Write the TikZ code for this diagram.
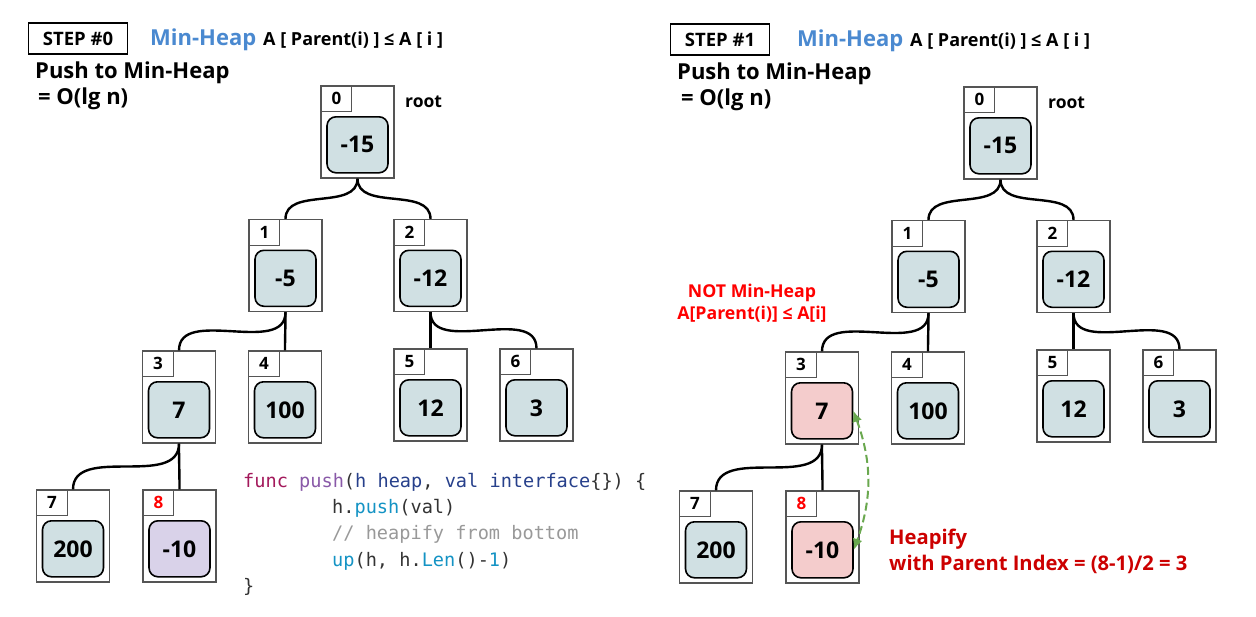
\documentclass[tikz,border=0pt]{standalone}
\usepackage{fontspec}
\setmainfont{Open Sans}
\setmonofont{DejaVu Sans Mono}
\usepackage{tikz}
\usepackage{xcolor}
\usetikzlibrary{positioning, arrows.meta, calc}
\definecolor{cellFill}{HTML}{D0E0E3}
\definecolor{cellPurple}{HTML}{D9D2E9}
\definecolor{cellPink}{HTML}{F4CCCC}
\definecolor{cellGray}{HTML}{555555}
\definecolor{heapBlue}{HTML}{4A89D0}
\definecolor{idxRed}{HTML}{FF0000}
\definecolor{noteRed}{HTML}{CC0000}
\definecolor{swapGreen}{HTML}{6AA84F}
\definecolor{cKey}{HTML}{A3195B}
\definecolor{cFun}{HTML}{8959A8}
\definecolor{cType}{HTML}{27408B}
\definecolor{cCall}{HTML}{1493C4}
\definecolor{cText}{HTML}{333333}
\definecolor{cNote}{HTML}{999999}

\newcommand{\fsz}[1]{\fontsize{#1}{#1}\selectfont}
% one heap slot: name, x, y, index, index colour, value, fill
\newcommand{\heapcell}[7]{%
  \node[cellbox] (#1) at (#2,#3) {};
  \node[idxbox, text=#5] (#1i) at (#1.north west) {#4};
  \node[valbox, fill=#7] (#1v) at ([yshift=5pt]#1.south) {#6};
}

\begin{document}
\begin{tikzpicture}[x=1pt, y=-1pt,
    cellbox/.style={draw=cellGray, line width=1.2pt, minimum width=73pt, minimum height=92pt, inner sep=0pt},
    idxbox/.style={draw=cellGray, line width=1pt, anchor=north west, minimum width=31pt, minimum height=26pt, inner sep=0pt, font=\bfseries\fsz{17}},
    valbox/.style={draw=black, line width=1.6pt, rounded corners=9pt, anchor=south, minimum width=61pt, minimum height=56pt, inner sep=0pt, font=\bfseries\fsz{23}},
    branch/.style={line width=2.4pt},
    stepbox/.style={draw=black, line width=1.6pt, minimum width=99pt, minimum height=31pt, inner sep=0pt, font=\bfseries\fsz{18.5}},
    title/.style={anchor=base west, inner sep=0pt, font=\bfseries},
    swap/.style={{Latex[length=11pt,width=10pt]}-{Latex[length=11pt,width=10pt]}, swapGreen, line width=2pt, dash pattern=on 8pt off 4pt}]
  \useasboundingbox (0,0) rectangle (1256,616);

  % headings
  \node[stepbox] (stepA) at (78,38.5) {STEP \#0};
  \node[title] (titleA) at (150,45.5) {{\color{heapBlue}\fsz{22}Min-Heap}\hspace{7pt}\fsz{18}A [ Parent(i) ] ≤ A [ i ]};
  \node[title, font=\bfseries\fsz{22}] (pushA) at (35,78) {Push to Min-Heap};
  \node[title, font=\bfseries\fsz{22}] (costA) at (38,104) {= O(lg n)};
  \node[stepbox] (stepB) at (720,39.5) {STEP \#1};
  \node[title] (titleB) at (797,46.5) {{\color{heapBlue}\fsz{22}Min-Heap}\hspace{7pt}\fsz{18}A [ Parent(i) ] ≤ A [ i ]};
  \node[title, font=\bfseries\fsz{22}] (pushB) at (677,79) {Push to Min-Heap};
  \node[title, font=\bfseries\fsz{22}] (costB) at (681,105) {= O(lg n)};

  % left heap
  \foreach \n/\x/\y/\i/\ic/\v/\f in {a0/357.5/132/0/black/-15/cellFill, a1/285.5/265.5/1/black/-5/cellFill,
      a2/430.5/265.5/2/black/-12/cellFill, a3/179/397/3/black/7/cellFill, a4/285/397/4/black/100/cellFill,
      a5/430.5/395/5/black/12/cellFill, a6/536.5/395/6/black/3/cellFill, a7/73/536/7/black/200/cellFill,
      a8/179.5/536/8/idxRed/-10/cellPurple}
    {\heapcell{\n}{\x}{\y}{\i}{\ic}{\v}{\f}}

  % right heap
  \foreach \n/\x/\y/\i/\ic/\v/\f in {b0/1000.5/133/0/black/-15/cellFill, b1/928.5/266.5/1/black/-5/cellFill,
      b2/1073.5/266.5/2/black/-12/cellFill, b3/822/398/3/black/7/cellPink, b4/928/398/4/black/100/cellFill,
      b5/1073.5/396/5/black/12/cellFill, b6/1179.5/396/6/black/3/cellFill, b7/716/537/7/black/200/cellFill,
      b8/822.5/537/8/idxRed/-10/cellPink}
    {\heapcell{\n}{\x}{\y}{\i}{\ic}{\v}{\f}}

  \foreach \p/\c in {a0/a1, a0/a2, a1/a3, a1/a4, a2/a5, a2/a6, a3/a7, a3/a8,
      b0/b1, b0/b2, b1/b3, b1/b4, b2/b5, b2/b6, b3/b7, b3/b8}
    \draw[branch] (\p.south) to[out=-90, in=90] (\c.north);

  \node[title, font=\bfseries\fsz{17.5}] (rootA) at (405,107) {root};
  \node[title, font=\bfseries\fsz{17.5}] (rootB) at (1048,108) {root};

  % push code
  \node[anchor=north west, inner sep=0pt, align=left, text=cText, font=\ttfamily\fontsize{18.6}{26.2}\selectfont] (code) at (243,473)
    {\textcolor{cKey}{func} \textcolor{cFun}{push}(\textcolor{cType}{h heap}, \textcolor{cType}{val interface}\{\}) \{\\
     \hspace*{89pt}h.\textcolor{cCall}{push}(val)\\
     \hspace*{89pt}\textcolor{cNote}{// heapify from bottom}\\
     \hspace*{89pt}\textcolor{cCall}{up}(h, h.\textcolor{cCall}{Len}()-\textcolor{cCall}{1})\\
     \}};

  % notes
  \node[align=center, inner sep=0pt, text=idxRed, font=\bfseries\fontsize{17.7}{22}\selectfont] (notheap) at (752,303)
    {NOT Min-Heap\\A[Parent(i)] ≤ A[i]};
  \node[anchor=north west, align=left, inner sep=0pt, text=noteRed, font=\bfseries\fontsize{20.2}{26}\selectfont] (heapify) at (889,529)
    {Heapify\\with Parent Index = (8-1)/2 = 3};
  \draw[swap] (b3v.east) to[bend left=20] (b8v.east);
\end{tikzpicture}
\end{document}
